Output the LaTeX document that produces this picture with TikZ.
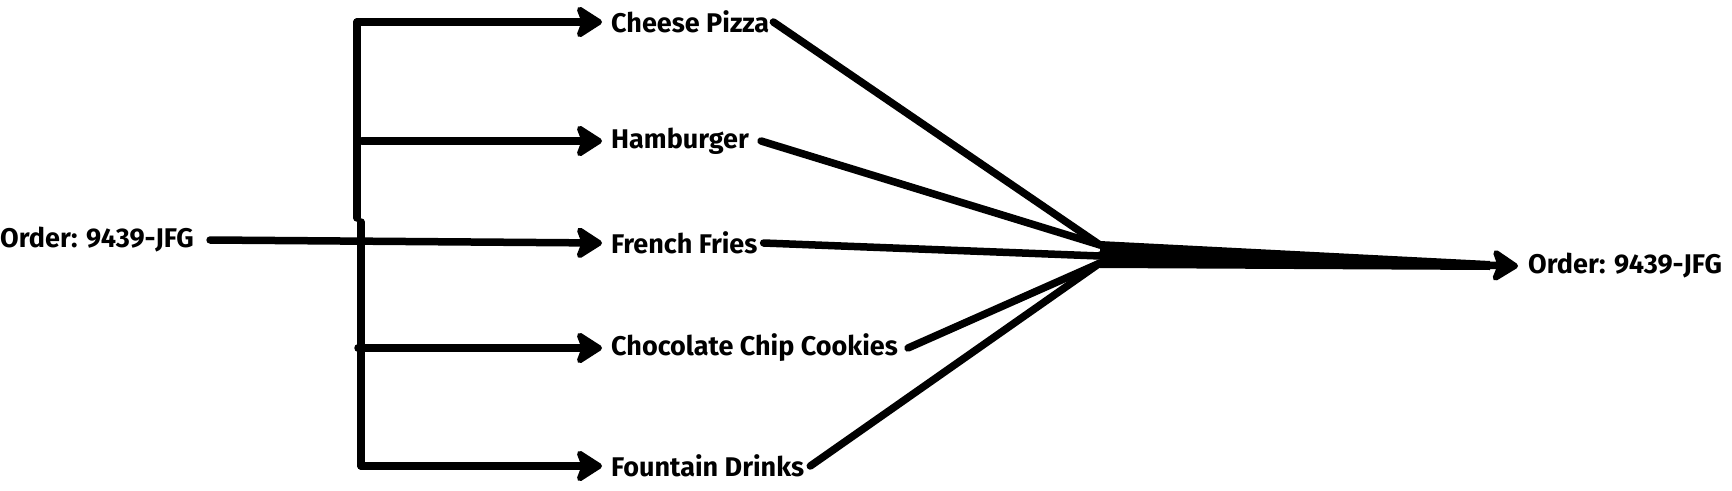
\documentclass[tikz,border=0pt]{standalone}
\usepackage{fontspec}
\setmainfont{Fira Sans}
\usetikzlibrary{arrows.meta}
\begin{document}
\begin{tikzpicture}[x=1pt,y=-1pt,
  lbl/.style={font=\bfseries\fontsize{27}{31}\selectfont, inner sep=0pt, anchor=west},
  conn/.style={line width=7.5pt, line cap=round, line join=round},
  arr/.style={conn, -{Stealth[length=30pt,width=38pt,inset=7pt,round]}}]
\useasboundingbox (0,0) rectangle (1732,490);
% nodes
\node[lbl] (order) at (0,240) {Order: 9439-JFG};
\node[lbl] (pizza) at (611,22) {Cheese Pizza};
\node[lbl] (burger) at (611,141) {Hamburger};
\node[lbl] (fries) at (611,243) {French Fries};
\node[lbl] (cookies) at (611,348) {Chocolate Chip Cookies};
\node[lbl] (drinks) at (611,466) {Fountain Drinks};
\node[lbl] (out) at (1528,266) {Order: 9439-JFG};
% trunk coordinates
\coordinate (ttop) at (357,22);
\coordinate (tbot) at (361,466);
\coordinate (tb) at (362,141);
\coordinate (tc) at (358,348);
% merge coordinates
\coordinate (mA) at (1100,245);
\coordinate (mB) at (1100,256);
\coordinate (mC) at (1100,263);
% tree
\draw[conn] (ttop) -- (357,218);
\draw[conn] (361,222) -- (tbot);
\draw[arr] (ttop) -- ([xshift=-9pt]pizza.west);
\draw[arr] (tb) -- ([xshift=-9pt]burger.west);
\draw[arr] ([xshift=16pt]order.east) -- ([xshift=-9pt]fries.west);
\draw[arr] (tc) -- ([xshift=-9pt]cookies.west);
\draw[arr] (tbot) -- ([xshift=-9pt]drinks.west);
% merge
\draw[conn] ([xshift=4pt]pizza.east) -- (mA);
\draw[conn] ([xshift=12pt]burger.east) -- (mA);
\draw[conn] ([xshift=6pt]fries.east) -- (mB);
\draw[conn] ([xshift=10pt]cookies.east) -- (mC);
\draw[conn] ([xshift=6pt]drinks.east) -- (mC);
\fill (1100,241) -- (1490,261) -- (1490,270) -- (1100,268) -- cycle;
\draw[arr] (1100,255) -- ([xshift=-10pt]out.west);
\end{tikzpicture}
\end{document}
